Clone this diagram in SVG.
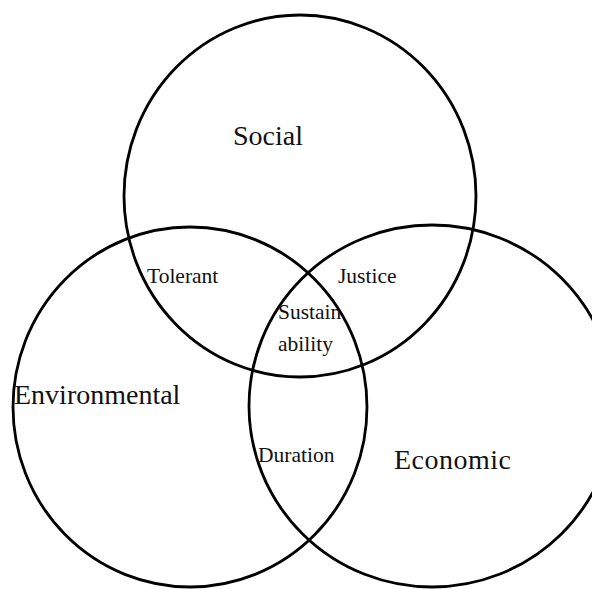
<svg xmlns="http://www.w3.org/2000/svg" width="592" height="589" viewBox="0 0 592 589">
  <style>
    .ring { fill: none; stroke: #000; stroke-width: 2.8; }
    .big { font-family: "Liberation Serif", "Times New Roman", serif; font-size: 28px; fill: #111; }
    .small { font-family: "Liberation Serif", "Times New Roman", serif; font-size: 21.5px; fill: #111; }
  </style>
  <rect width="592" height="589" fill="#fff"/>
  <g id="social">
    <ellipse class="ring" cx="300" cy="196" rx="176" ry="181"/>
    <text class="big" x="233" y="145">Social</text>
  </g>
  <g id="environmental">
    <ellipse class="ring" cx="190" cy="407" rx="177" ry="180"/>
    <text class="big" x="14" y="404">Environmental</text>
  </g>
  <g id="economic">
    <ellipse class="ring" cx="432" cy="406" rx="183" ry="181"/>
    <text class="big" x="394" y="469" textLength="117">Economic</text>
  </g>
  <g id="overlaps">
    <text class="small" x="147" y="283">Tolerant</text>
    <text class="small" x="338" y="283">Justice</text>
    <text class="small" x="278" y="319">Sustain</text>
    <text class="small" x="278" y="351">ability</text>
    <text class="small" x="258" y="462">Duration</text>
  </g>
</svg>
